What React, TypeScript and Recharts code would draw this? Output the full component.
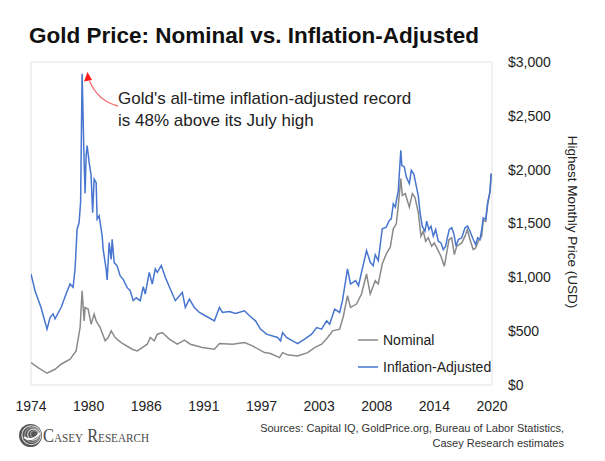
import { Line, LineChart, ReferenceArea, XAxis, YAxis } from 'recharts';

// values (highest monthly price, USD)
const adjustedYears = [
  1974.0, 1974.4, 1975.0, 1975.6, 1975.9, 1976.2, 1976.4, 1977.0, 1977.5, 1977.9,
  1978.2, 1978.4, 1978.6, 1978.8, 1978.95, 1979.1, 1979.3, 1979.4, 1979.5, 1979.6,
  1979.8, 1980.0, 1980.15, 1980.3, 1980.5, 1980.6, 1980.8, 1981.1, 1981.2, 1981.5,
  1981.6, 1981.8, 1982.0, 1982.1, 1982.3, 1982.6, 1982.9, 1983.2, 1983.6, 1983.9,
  1984.2, 1984.5, 1984.9, 1985.2, 1985.4, 1985.8, 1986.1, 1986.4, 1986.6, 1987.0,
  1987.4, 1987.9, 1988.4, 1989.1, 1989.4, 1989.8, 1990.3, 1990.8, 1991.4, 1992.3,
  1992.8, 1993.1, 1993.8, 1994.4, 1995.3, 1995.8, 1996.4, 1996.9, 1997.5, 1998.6,
  1998.9, 1999.1, 1999.5, 2000.1, 2000.6, 2001.3, 2002.0, 2002.5, 2003.0, 2003.5,
  2003.8, 2004.3, 2004.8, 2005.08, 2005.58, 2005.88, 2006.38, 2006.68, 2006.98, 2007.48,
  2007.85, 2008.15, 2008.35, 2008.65, 2009.05, 2009.45, 2009.75, 2009.95, 2010.15, 2010.35,
  2010.65, 2010.9, 2011.0, 2011.25, 2011.45, 2011.75, 2011.95, 2012.2, 2012.65, 2012.82,
  2013.04, 2013.31, 2013.48, 2013.71, 2013.91, 2014.14, 2014.38, 2014.64, 2014.91, 2015.14,
  2015.38, 2015.54, 2015.74, 2015.98, 2016.21, 2016.41, 2016.64, 2016.98, 2017.31, 2017.57,
  2017.8, 2018.13, 2018.37, 2018.57, 2018.8, 2018.97, 2019.13, 2019.37, 2019.57, 2019.8,
  2019.92,
];
const adjustedPrices = [
  1031, 876, 720, 519, 627, 661, 615, 720, 845, 938,
  907, 1080, 1447, 1509, 1700, 2891, 2068, 1780, 2130, 2224,
  2068, 1944, 1600, 1913, 1880, 1540, 1571, 1385, 1260, 1074,
  975, 1323, 1167, 1354, 1137, 1105, 1013, 981, 904, 876,
  783, 810, 783, 913, 845, 1046, 938, 1078, 1046, 1109,
  1000, 892, 783, 860, 720, 798, 720, 674, 643, 596,
  720, 674, 683, 664, 689, 643, 596, 519, 472, 441,
  410, 487, 441, 410, 385, 426, 472, 534, 519, 596,
  565, 705, 674, 783, 1078, 938, 969, 922, 1046, 1248,
  1140, 1109, 1210, 1155, 1451, 1466, 1528, 1544, 1684, 1652,
  1808, 2180, 2040, 2025, 1931, 1870, 1994, 1960, 1754, 1600,
  1475, 1428, 1522, 1444, 1475, 1382, 1444, 1335, 1320, 1258,
  1289, 1367, 1444, 1460, 1398, 1289, 1351, 1367, 1460, 1475,
  1428, 1351, 1304, 1367, 1351, 1444, 1553, 1537, 1693, 1801,
  1963,
];

const nominalYears = [
  1974.0, 1974.7, 1975.6, 1976.4, 1977.0, 1977.9, 1978.5, 1978.9, 1979.1, 1979.3,
  1979.4, 1979.7, 1980.0, 1980.3, 1980.5, 1980.9, 1981.4, 1981.7, 1982.0, 1982.4,
  1983.0, 1984.1, 1984.6, 1985.1, 1985.6, 1985.9, 1986.3, 1986.6, 1987.1, 1987.8,
  1988.6, 1989.3, 1989.9, 1991.1, 1992.3, 1992.8, 1994.1, 1995.3, 1996.1, 1997.3,
  1997.9, 1998.8, 1999.1, 1999.6, 2000.6, 2001.6, 2002.3, 2003.0, 2003.6, 2004.1,
  2004.8, 2005.18, 2005.58, 2005.88, 2006.48, 2006.98, 2007.48, 2007.85, 2008.35, 2008.65,
  2009.05, 2009.45, 2009.85, 2010.15, 2010.45, 2010.65, 2010.9, 2011.05, 2011.35, 2011.75,
  2012.05, 2012.32, 2012.65, 2012.91, 2013.14, 2013.38, 2013.64, 2013.98, 2014.24, 2014.58,
  2014.91, 2015.24, 2015.48, 2015.71, 2015.98, 2016.24, 2016.48, 2016.98, 2017.31, 2017.54,
  2017.8, 2018.13, 2018.37, 2018.63, 2018.97, 2019.13, 2019.37, 2019.57, 2019.8, 2019.92,
];
const nominalPrices = [
  208, 161, 109, 146, 193, 239, 317, 534, 876, 596,
  720, 705, 565, 658, 596, 534, 410, 441, 503, 441,
  394, 332, 317, 348, 379, 441, 410, 472, 487, 426,
  379, 416, 379, 348, 332, 385, 379, 394, 363, 301,
  292, 254, 301, 280, 270, 301, 348, 379, 441, 503,
  519, 643, 829, 720, 752, 845, 1031, 845, 969, 938,
  1124, 1218, 1280, 1451, 1497, 1668, 1917, 1761, 1777, 1652,
  1777, 1740, 1600, 1382, 1428, 1335, 1367, 1289, 1320, 1258,
  1195, 1102, 1227, 1351, 1367, 1211, 1289, 1320, 1382, 1444,
  1351, 1258, 1273, 1335, 1382, 1530, 1520, 1680, 1790, 1963,
];

const yearTicks = [1974, 1979.75, 1985.5, 1991.25, 1997, 2002.75, 2008.5, 2014.25, 2020];
const yearLabels = ['1974', '1980', '1986', '1991', '1997', '2003', '2008', '2014', '2020'];
const priceTicks = [0, 500, 1000, 1500, 2000, 2500, 3000];

const adjusted = adjustedYears.map((year, i) => ({ year, price: adjustedPrices[i] }));
const nominal = nominalYears.map((year, i) => ({ year, price: nominalPrices[i] }));

const FONT = '"Liberation Sans", Arial, sans-serif';
const BLUE = '#4775cf';
const GRAY = '#8a8a8a';

const legendItems = [
  { name: 'Nominal', color: GRAY },
  { name: 'Inflation-Adjusted', color: BLUE },
];

function CaseyLogo() {
  return (
    <g>
      <circle cx={30.5} cy={435.5} r={11.5} fill="#555" />
      {[9.5, 7.5, 5.5, 3.5].map((r, i) => (
        <circle
          key={r}
          cx={30.5 + (i + 1) * 0.9}
          cy={435.5 - (i + 1) * 0.3}
          r={r}
          fill="none"
          stroke={i % 2 ? '#999' : '#ddd'}
          strokeWidth={1.1}
        />
      ))}
      <path d="M24 437 Q31 443 40 433" fill="none" stroke="#fff" strokeWidth={1.8} />
      <text
        x={43}
        y={442}
        fontFamily='"Liberation Serif", "Times New Roman", serif'
        fontSize={19}
        fill="#4a4a4a"
        style={{ fontVariant: 'small-caps' }}
        textLength={106}
        lengthAdjust="spacingAndGlyphs"
      >
        Casey Research
      </text>
    </g>
  );
}

export default function App() {
  return (
    <div style={{ position: 'absolute', left: 0, top: 0, width: 605, height: 461, background: '#fff' }}>
      <LineChart width={605} height={461} margin={{ top: 62, right: 0, bottom: 46, left: 31 }}>
        <XAxis
          type="number"
          dataKey="year"
          domain={[1974, 2020]}
          ticks={yearTicks}
          tickFormatter={(_v, i) => yearLabels[i]}
          axisLine={false}
          tickLine={false}
          tickSize={0}
          tickMargin={16}
          height={30}
          interval={0}
          allowDataOverflow
          tick={{ fontSize: 14, fill: '#222', fontFamily: FONT }}
        />
        <YAxis
          orientation="right"
          type="number"
          domain={[0, 3000]}
          ticks={priceTicks}
          tickFormatter={(v) => `$${Number(v).toLocaleString('en-US')}`}
          axisLine={false}
          tickLine={false}
          tickSize={0}
          tickMargin={16}
          width={113}
          interval={0}
          tick={{ fontSize: 14, fill: '#222', fontFamily: FONT, textAnchor: 'start' }}
        />
        <ReferenceArea x1={1974} x2={2020} y1={0} y2={3000} fill="none" stroke="#e3e3e3" strokeWidth={1} />
        <Line
          data={nominal}
          dataKey="price"
          name="Nominal"
          type="linear"
          stroke={GRAY}
          strokeWidth={1.5}
          dot={false}
          isAnimationActive={false}
        />
        <Line
          data={adjusted}
          dataKey="price"
          name="Inflation-Adjusted"
          type="linear"
          stroke={BLUE}
          strokeWidth={1.5}
          dot={false}
          isAnimationActive={false}
        />
      </LineChart>

      <svg
        width={605}
        height={461}
        style={{ position: 'absolute', left: 0, top: 0, pointerEvents: 'none' }}
        fontFamily={FONT}
      >
        <text x={29} y={43} fontSize={22.5} fontWeight="bold" fill="#111">
          Gold Price: Nominal vs. Inflation-Adjusted
        </text>

        <text fontSize={17} fill="#222">
          <tspan x={118} y={104}>Gold's all-time inflation-adjusted record</tspan>
          <tspan x={118} y={126}>is 48% above its July high</tspan>
        </text>
        <path d="M118 106 Q98 101 89.5 81" fill="none" stroke="#f07070" strokeWidth={1.3} />
        <polygon points="87.5,72 84,81.5 92,80" fill="#ff1a1a" />

        {legendItems.map((item, i) => (
          <g key={item.name}>
            <line x1={358} x2={378} y1={340 + i * 27} y2={340 + i * 27} stroke={item.color} strokeWidth={1.5} />
            <text x={383} y={345 + i * 27} fontSize={14} fill="#222">
              {item.name}
            </text>
          </g>
        ))}

        <text
          x={572}
          y={222}
          fontSize={13.5}
          fill="#222"
          textAnchor="middle"
          transform="rotate(90 572 222)"
          dominantBaseline="middle"
        >
          Highest Monthly Price (USD)
        </text>

        <text fontSize={11} fill="#333" textAnchor="end">
          <tspan x={564} y={432}>Sources: Capital IQ, GoldPrice.org, Bureau of Labor Statistics,</tspan>
          <tspan x={564} y={447}>Casey Research estimates</tspan>
        </text>

        <CaseyLogo />
      </svg>
    </div>
  );
}
